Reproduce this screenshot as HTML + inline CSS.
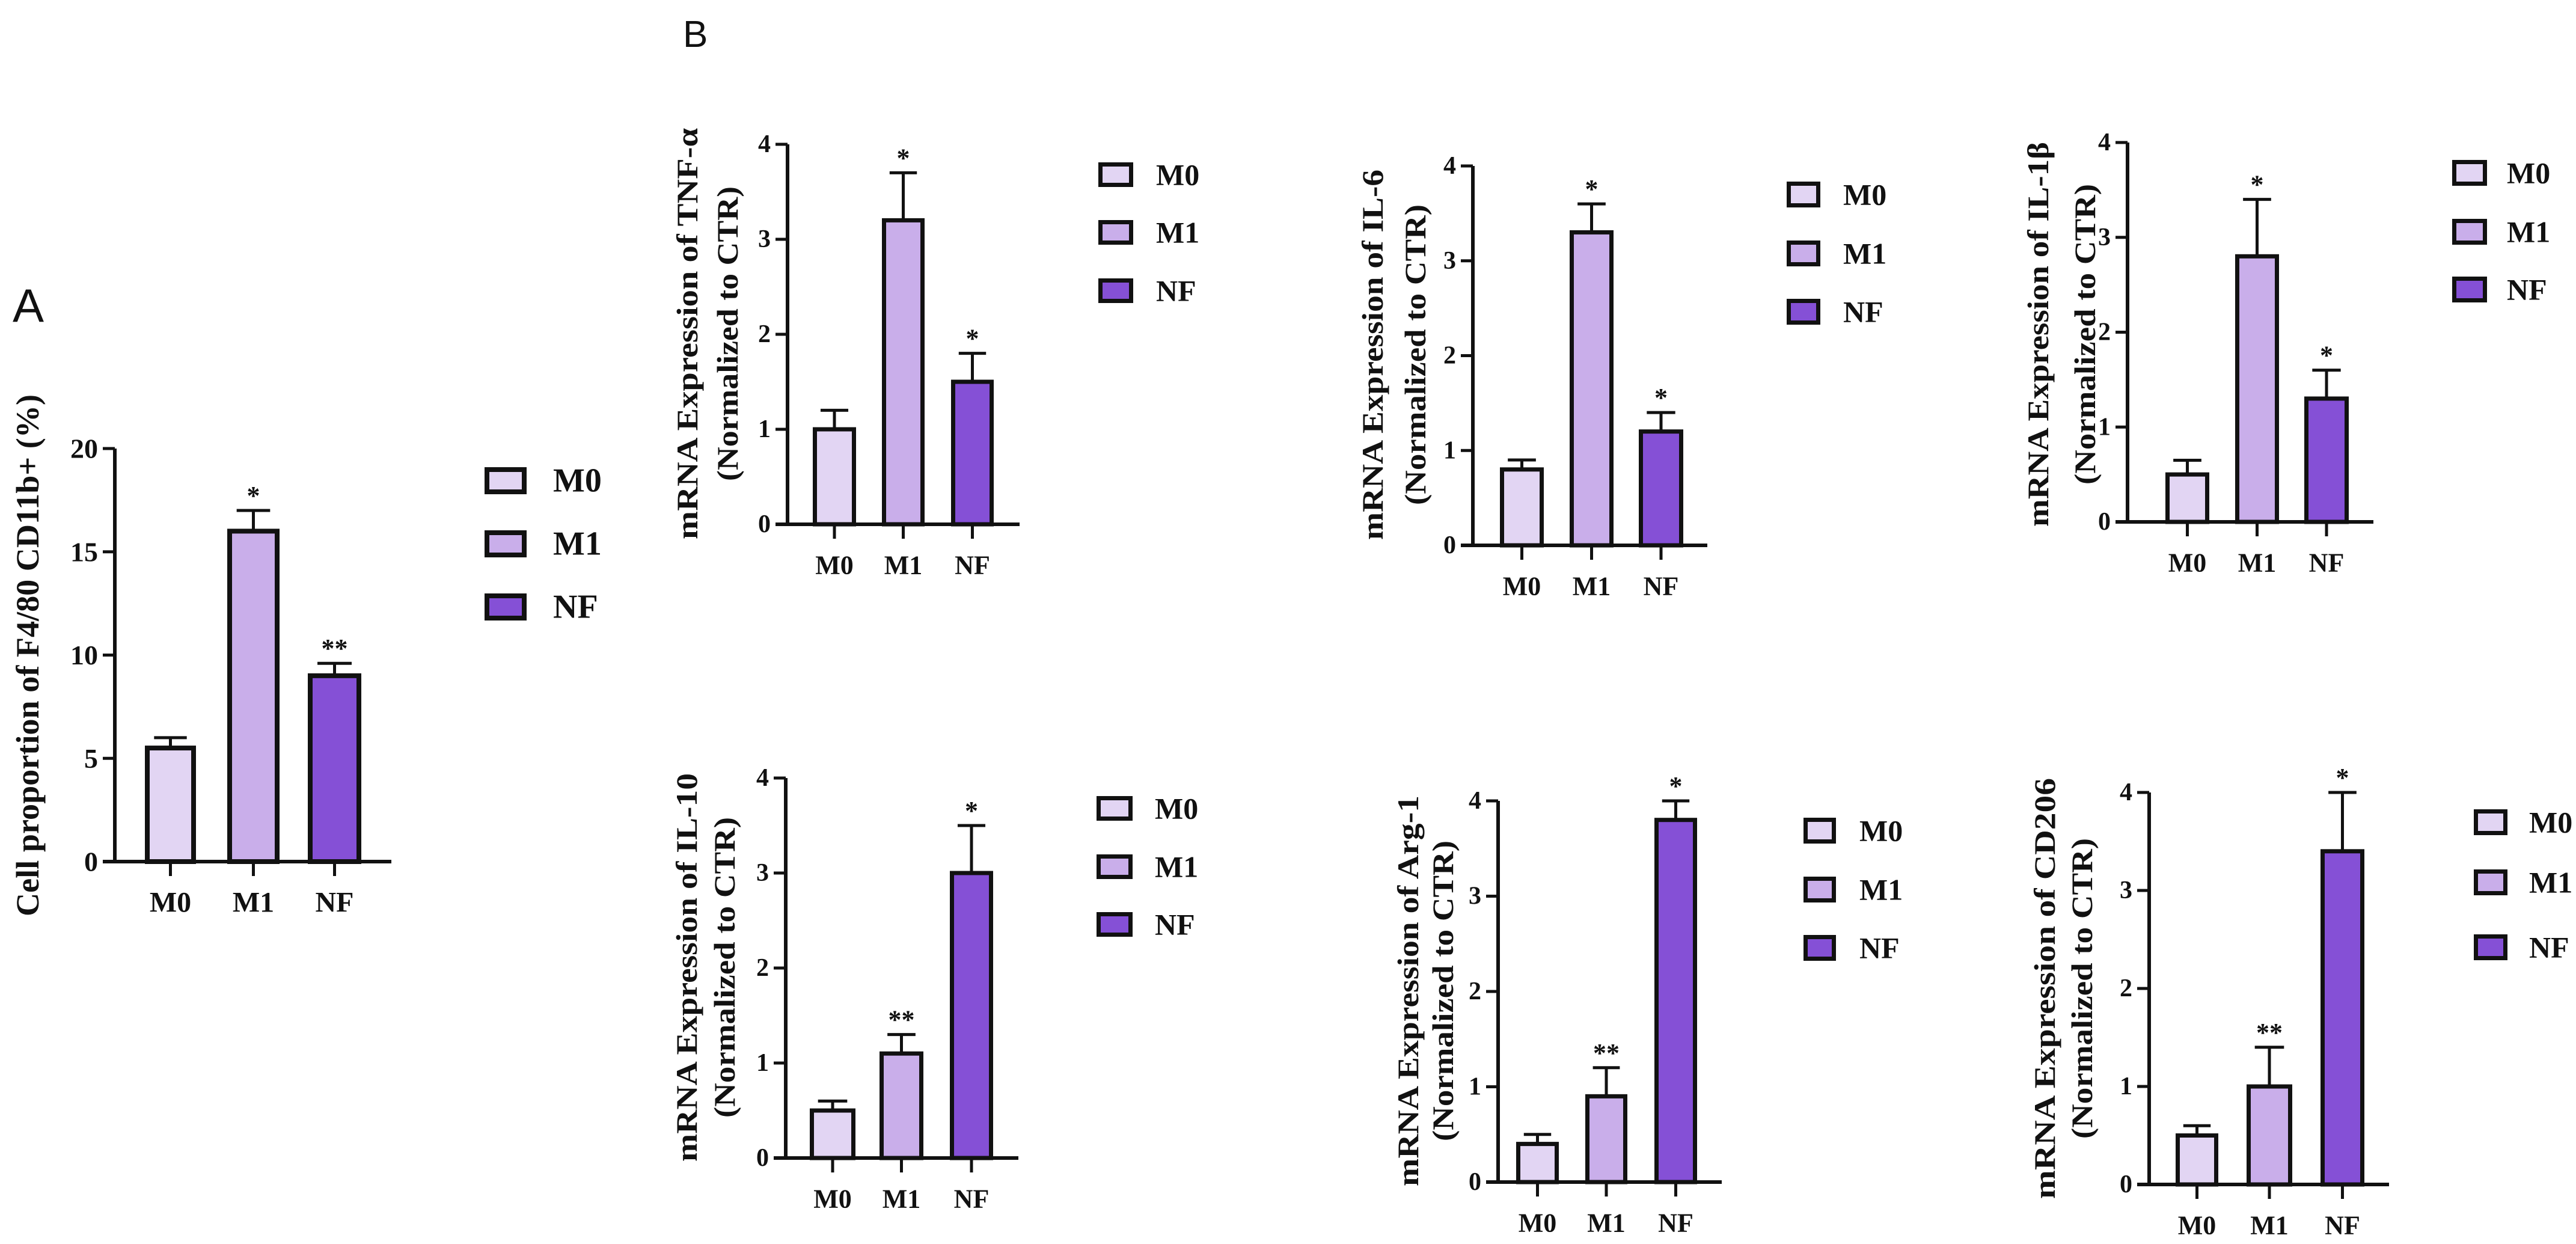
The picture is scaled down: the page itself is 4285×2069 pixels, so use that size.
<!DOCTYPE html>
<html><head><meta charset="utf-8">
<style>
html,body{margin:0;padding:0;background:#fff;}
svg{display:block;}
text{font-family:"Liberation Serif",serif;font-weight:bold;fill:#111;}
.lbl{font-family:"Liberation Sans",sans-serif;font-weight:normal;}
</style></head>
<body>
<svg id="fig" width="4285" height="2069" viewBox="0 0 4285 2069" xmlns="http://www.w3.org/2000/svg">
<text class="lbl" x="21" y="535" font-size="78">A</text>
<text class="lbl" x="1136" y="78" font-size="62">B</text>
</svg>
<script>
const categories = ["M0","M1","NF"];
const colors = ["#e2d5f3","#c9aeea","#8550d6"];
// Panel A
const cellValues = [5.5, 16, 9];
const cellErrors = [0.5, 1, 0.6];
const cellStars = ["", "*", "**"];
const cellTicks = [0,5,10,15,20];
// TNF-a
const tnfValues = [1, 3.2, 1.5];
const tnfErrors = [0.2, 0.5, 0.3];
const tnfStars = ["", "*", "*"];
// IL-6
const il6Values = [0.8, 3.3, 1.2];
const il6Errors = [0.1, 0.3, 0.2];
const il6Stars = ["", "*", "*"];
// IL-1b
const il1bValues = [0.5, 2.8, 1.3];
const il1bErrors = [0.15, 0.6, 0.3];
const il1bStars = ["", "*", "*"];
// IL-10
const il10Values = [0.5, 1.1, 3.0];
const il10Errors = [0.1, 0.2, 0.5];
const il10Stars = ["", "**", "*"];
// Arg-1
const argValues = [0.4, 0.9, 3.8];
const argErrors = [0.1, 0.3, 0.2];
const argStars = ["", "**", "*"];
// CD206
const cd206Values = [0.5, 1.0, 3.4];
const cd206Errors = [0.1, 0.4, 0.6];
const cd206Stars = ["", "**", "*"];
const mrnaTicks = [0,1,2,3,4];

const NS = "http://www.w3.org/2000/svg";
const svg = document.getElementById("fig");
function mk(tag, attrs, parent){
  const e = document.createElementNS(NS, tag);
  for (const k in attrs) e.setAttribute(k, attrs[k]);
  (parent||svg).appendChild(e);
  return e;
}

const panels = [
 {id:"cell", values:cellValues, errors:cellErrors, stars:cellStars, ticks:cellTicks, max:20,
  ax:191, y0:1433, yTop:746, xEnd:651, bars:[[241,326],[378,465],[512,601]],
  title:["Cell proportion of F4/80 CD11b+ (%)"], tx:[46], ty:1090, tlen:[868], tfs:54,
  legX:806, legW:70, legY:[777,882,987], legH:45, legTX:920, legFS:56, tickFS:46, catFS:48, sw:8},
 {id:"tnf", values:tnfValues, errors:tnfErrors, stars:tnfStars, ticks:mrnaTicks, max:4,
  ax:1310, y0:872, yTop:240, xEnd:1696, bars:[[1352,1424],[1467,1538],[1582,1653]],
  title:["mRNA Expression of TNF-α","(Normalized to CTR)"], tx:[1143,1210], ty:555, tlen:[684,490], tfs:50,
  legX:1827, legW:58, legY:[270,366,463], legH:41, legTX:1923, legFS:50, tickFS:42, catFS:44, sw:7},
 {id:"il6", values:il6Values, errors:il6Errors, stars:il6Stars, ticks:mrnaTicks, max:4,
  ax:2450, y0:907, yTop:276, xEnd:2840, bars:[[2495,2568],[2611,2684],[2726,2800]],
  title:["mRNA Expression of IL-6","(Normalized to CTR)"], tx:[2283,2354], ty:590, tlen:[616,500], tfs:50,
  legX:2972, legW:56, legY:[302,400,497], legH:43, legTX:3066, legFS:50, tickFS:42, catFS:44, sw:7},
 {id:"il1b", values:il1bValues, errors:il1bErrors, stars:il1bStars, ticks:mrnaTicks, max:4,
  ax:3539, y0:868, yTop:237, xEnd:3948, bars:[[3602,3675],[3718,3791],[3833,3907]],
  title:["mRNA Expression of IL-1β","(Normalized to CTR)"], tx:[3390,3468], ty:556, tlen:[640,500], tfs:50,
  legX:4079, legW:58, legY:[266,364,460], legH:43, legTX:4170, legFS:50, tickFS:42, catFS:44, sw:7},
 {id:"il10", values:il10Values, errors:il10Errors, stars:il10Stars, ticks:mrnaTicks, max:4,
  ax:1307, y0:1926, yTop:1294, xEnd:1694, bars:[[1347,1423],[1463,1536],[1580,1652]],
  title:["mRNA Expression of IL-10","(Normalized to CTR)"], tx:[1142,1205], ty:1609, tlen:[646,500], tfs:50,
  legX:1824, legW:60, legY:[1324,1421,1517], legH:41, legTX:1921, legFS:50, tickFS:42, catFS:44, sw:7},
 {id:"arg1", values:argValues, errors:argErrors, stars:argStars, ticks:mrnaTicks, max:4,
  ax:2492, y0:1966, yTop:1332, xEnd:2864, bars:[[2522,2593],[2637,2707],[2752,2823]],
  title:["mRNA Expression of Arg-1","(Normalized to CTR)"], tx:[2342,2400], ty:1648, tlen:[650,500], tfs:50,
  legX:3000, legW:54, legY:[1360,1458,1555], legH:43, legTX:3093, legFS:50, tickFS:42, catFS:44, sw:7},
 {id:"cd206", values:cd206Values, errors:cd206Errors, stars:cd206Stars, ticks:mrnaTicks, max:4,
  ax:3575, y0:1970, yTop:1318, xEnd:3974, bars:[[3619,3690],[3737,3813],[3860,3933]],
  title:["mRNA Expression of CD206","(Normalized to CTR)"], tx:[3401,3463], ty:1644, tlen:[700,500], tfs:50,
  legX:4115, legW:56, legY:[1346,1446,1554], legH:43, legTX:4207, legFS:50, tickFS:42, catFS:44, sw:7}
];

panels.forEach(p => {
  const g = mk("g", {});
  
  
  const yScale = v => p.y0 - (v / p.max) * (p.y0 - p.yTop);
  const labY = p.y0 + 68;
  p.values.forEach((v, i) => {
    const [x1, x2] = p.bars[i];
    const cx = (x1 + x2) / 2;
    const yv = yScale(v);
    const ye = yScale(v + p.errors[i]);
    const capW = (x2 - x1) * 0.32;
    const err = mk("g", {stroke:"#111","stroke-width":5}, g);
    
    
    mk("line", {x1:cx, y1:yv, x2:cx, y2:ye}, err);
    mk("line", {x1:cx - capW, y1:ye, x2:cx + capW, y2:ye}, err);
    const r = mk("rect", {x:x1 + p.sw/2, y:yv, width:x2 - x1 - p.sw, height:p.y0 - yv, fill:colors[i], stroke:"#111", "stroke-width":p.sw}, g);
    
    
    if (p.stars[i]) {
      const s = mk("text", {x:cx, y:ye - 10, "text-anchor":"middle", "font-size":44}, g);
      s.textContent = p.stars[i];
      
      
    }
    const t = mk("line", {x1:cx, y1:p.y0, x2:cx, y2:p.y0 + 24, stroke:"#111", "stroke-width":5}, g);
    
    
    const l = mk("text", {x:cx, y:labY, "text-anchor":"middle", "dominant-baseline":"central", "font-size":p.catFS}, g);
    l.textContent = categories[i];
    
    
  });
  const ya = mk("line", {x1:p.ax, y1:p.yTop, x2:p.ax, y2:p.y0 + 3, stroke:"#111", "stroke-width":6}, g);
  
  
  const xa = mk("line", {x1:p.ax - 20, y1:p.y0, x2:p.xEnd, y2:p.y0, stroke:"#111", "stroke-width":6}, g);
  
  
  p.ticks.forEach(tv => {
    const y = yScale(tv);
    const tk = mk("line", {x1:p.ax - 20, y1:y, x2:p.ax, y2:y, stroke:"#111", "stroke-width":5}, g);
    
    
    const tl = mk("text", {x:p.ax - 28, y:y, "text-anchor":"end", "dominant-baseline":"central", "font-size":p.tickFS}, g);
    tl.textContent = tv;
    
    
  });
  p.title.forEach((line, k) => {
    const tt = mk("text", {x:0, y:0, "text-anchor":"middle", "dominant-baseline":"central", "font-size":p.tfs,
      transform:"translate(" + p.tx[k] + "," + p.ty + ") rotate(-90)", textLength:p.tlen[k], lengthAdjust:"spacingAndGlyphs"}, g);
    tt.textContent = line;
    
    
  });
  categories.forEach((c, i) => {
    const lg = mk("g", {}, g);
    
    
    mk("rect", {x:p.legX + p.sw/2, y:p.legY[i] + p.sw/2, width:p.legW - p.sw, height:p.legH - p.sw, fill:colors[i], stroke:"#111", "stroke-width":p.sw}, lg);
    const lt = mk("text", {x:p.legTX, y:p.legY[i] + p.legH/2, "dominant-baseline":"central", "font-size":p.legFS}, lg);
    lt.textContent = c;
  });
});
</script>
</body></html>
